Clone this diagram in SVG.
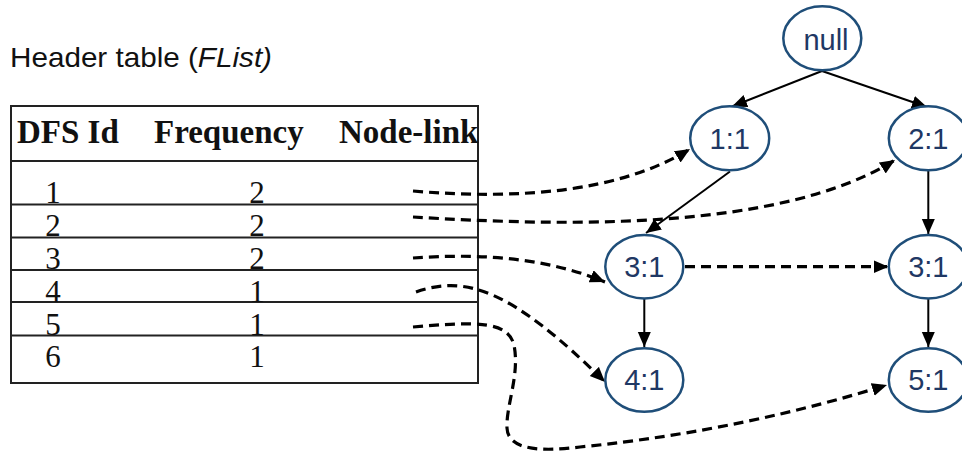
<svg xmlns="http://www.w3.org/2000/svg" width="962" height="453" viewBox="0 0 962 453">
<style>
.title{font-family:"Liberation Sans",Arial,sans-serif;font-size:28px;fill:#111}
.hd{font-family:"Liberation Serif","Times New Roman",serif;font-size:33px;font-weight:bold;fill:#111}
.cell{font-family:"Liberation Serif","Times New Roman",serif;font-size:31px;fill:#111;text-anchor:middle}
.tl{stroke:#222;stroke-width:2;fill:none}
.node ellipse{fill:#fff;stroke:#1F4E79;stroke-width:2.5}
.node text{font-family:"Liberation Sans",Arial,sans-serif;font-size:29px;fill:#1F3864;text-anchor:middle}
.solid{stroke:#000;stroke-width:2;fill:none;marker-end:url(#ah)}
.dash{stroke:#000;stroke-width:3.2;fill:none;stroke-dasharray:10 6;marker-end:url(#ah)}
</style>
<defs>
<marker id="ah" markerUnits="userSpaceOnUse" markerWidth="17" markerHeight="15" refX="15" refY="6.5" orient="auto">
<path d="M0,0 L15,6.5 L0,13 z" fill="#000"/>
</marker>
</defs>
<rect width="962" height="453" fill="#fff"/>
<text class="title" x="10" y="67" textLength="262" lengthAdjust="spacingAndGlyphs">Header table (<tspan font-style="italic">FList)</tspan></text>
<g id="table">
<rect class="tl" x="11" y="106" width="467" height="277"/>
<line class="tl" x1="11" y1="161" x2="478" y2="161"/>
<line class="tl" x1="11" y1="204.5" x2="478" y2="204.5"/>
<line class="tl" x1="11" y1="237.5" x2="478" y2="237.5"/>
<line class="tl" x1="11" y1="270" x2="478" y2="270"/>
<line class="tl" x1="11" y1="302" x2="478" y2="302"/>
<line class="tl" x1="11" y1="335.5" x2="478" y2="335.5"/>
<text class="hd" x="17" y="143">DFS Id</text>
<text class="hd" x="154" y="143">Frequency</text>
<text class="hd" x="339" y="143">Node-link</text>
<text class="cell" x="53" y="203">1</text><text class="cell" x="257" y="203">2</text>
<text class="cell" x="53" y="236">2</text><text class="cell" x="257" y="236">2</text>
<text class="cell" x="53" y="268.5">3</text><text class="cell" x="257" y="268.5">2</text>
<text class="cell" x="53" y="301.5">4</text><text class="cell" x="257" y="301.5">1</text>
<text class="cell" x="53" y="334.5">5</text><text class="cell" x="257" y="334.5">1</text>
<text class="cell" x="53" y="367">6</text><text class="cell" x="257" y="367">1</text>
</g>
<g id="connectors">
<path class="solid" d="M822,71 L732,106.5"/>
<path class="solid" d="M822,71 L927,107"/>
<path class="solid" d="M730,171.5 L646,233"/>
<path class="solid" d="M928.3,171 L928.3,234"/>
<path class="solid" d="M644.3,298.5 L644.3,347"/>
<path class="solid" d="M928.3,298.5 L928.3,347"/>
<path class="dash" d="M685,266.7 L888.5,266.7"/>
<path class="dash" d="M413,191 C520,200 620,192 690,149"/>
<path class="dash" d="M413,217 C560,226 780,232 895,160"/>
<path class="dash" d="M413,258 C470,254 540,255 605,282"/>
<path class="dash" d="M416,292 C465,275 510,288 605,382"/>
<path class="dash" d="M413,327 C480,321 508,322 514,345 C520,375 506,405 507,428 C508,450 540,452 580,447 C700,435 800,412 887,385"/>
</g>
<g id="n-null" class="node"><ellipse cx="822.3" cy="38.3" rx="39" ry="32"/><text x="826" y="50">null</text></g>
<g id="n-1-1" class="node"><ellipse cx="729.7" cy="138.3" rx="39.5" ry="32"/><text x="729.7" y="148.5">1:1</text></g>
<g id="n-2-1" class="node"><ellipse cx="928.3" cy="138.3" rx="39.5" ry="32"/><text x="928.3" y="148.5">2:1</text></g>
<g id="n-3-1a" class="node"><ellipse cx="644.3" cy="266.7" rx="39" ry="31.7"/><text x="644.3" y="277">3:1</text></g>
<g id="n-3-1b" class="node"><ellipse cx="928.3" cy="266.7" rx="39.5" ry="31.7"/><text x="928.3" y="277">3:1</text></g>
<g id="n-4-1" class="node"><ellipse cx="644.3" cy="380" rx="39" ry="31.7"/><text x="644.3" y="390.3">4:1</text></g>
<g id="n-5-1" class="node"><ellipse cx="928.3" cy="380" rx="39.5" ry="31.7"/><text x="928.3" y="390.3">5:1</text></g>
</svg>
